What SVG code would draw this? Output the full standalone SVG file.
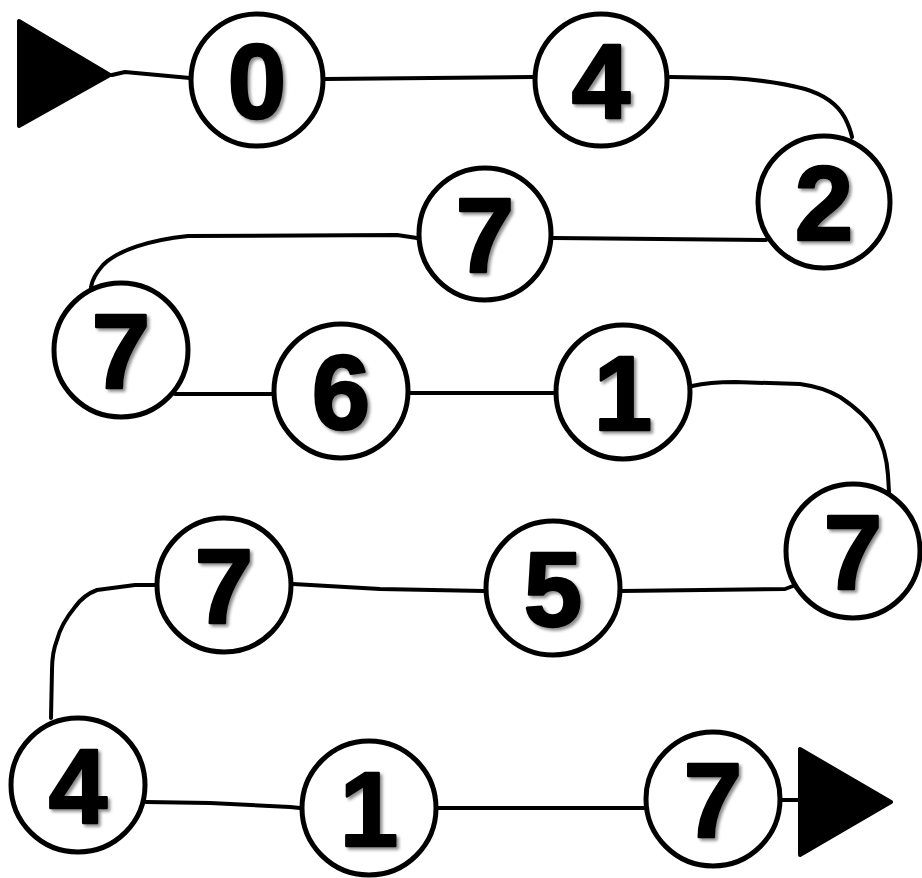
<svg xmlns="http://www.w3.org/2000/svg" width="922" height="878" viewBox="0 0 922 878">
<defs>
<filter id="sh" x="-20%" y="-20%" width="150%" height="150%">
<feDropShadow dx="2.5" dy="2.5" stdDeviation="1.6" flood-color="#000" flood-opacity="0.45"/>
</filter>
<style>
.n circle{fill:#fff;stroke:#000;stroke-width:5}
.n text{font-family:"Liberation Sans",Arial,sans-serif;font-weight:bold;font-size:105px;text-anchor:middle;fill:#000;stroke:#000;stroke-width:2.5;stroke-linejoin:round;filter:url(#sh)}
#connectors path{fill:none;stroke:#000;stroke-width:4;stroke-linecap:round;stroke-linejoin:round}
.arr{fill:#000;stroke:#000;stroke-width:4;stroke-linejoin:round}
</style>
</defs>
<rect width="922" height="878" fill="#fff"/>
<g id="connectors">
<path d="M112,75 L125,72 L190,78"/>
<path d="M325,79 L533,77"/>
<path d="M670,77 L730,78 C765,80 790,85 805,89 C825,95 838,105 845,118 C849,126 851,132 852,137"/>
<path d="M766,240 L553,238"/>
<path d="M417,238 L397,235 L188,236 C150,240 118,250 103,265 C96,273 92,280 91,287"/>
<path d="M175,394 L273,394"/>
<path d="M410,393 L555,393"/>
<path d="M692,386 C705,383 720,382 735,382 L800,384 C815,386 828,390 840,397 C855,407 868,418 876,432 C884,446 887,460 888,475 L889,492"/>
<path d="M793,586 L785,589 L621,591"/>
<path d="M484,591 L380,589 L293,584"/>
<path d="M156,585 L135,585 L97,590 C86,594 80,600 75,607 C66,618 60,628 57,640 C53,650 52,660 52,670 L51,718"/>
<path d="M146,802 L210,803 L290,807 L300,808"/>
<path d="M437,808 L644,808"/>
<path d="M782,800 L798,800"/>
<polygon class="arr" points="19,21 19,126 110,75"/>
<polygon class="arr" points="800,749 800,855 891,802"/>
</g>
<g id="n1" class="n"><circle cx="257" cy="80" r="66"/><text x="257" y="118">0</text></g>
<g id="n2" class="n"><circle cx="601" cy="80" r="66"/><text x="601" y="118">4</text></g>
<g id="n3" class="n"><circle cx="824" cy="202" r="66"/><text x="824" y="240">2</text></g>
<g id="n4" class="n"><circle cx="485" cy="234" r="66"/><text x="485" y="272">7</text></g>
<g id="n5" class="n"><circle cx="121" cy="350" r="67"/><text x="121" y="388">7</text></g>
<g id="n6" class="n"><circle cx="341" cy="391" r="67"/><text x="341" y="429">6</text></g>
<g id="n7" class="n"><circle cx="623" cy="392" r="67"/><text x="623" y="430">1</text></g>
<g id="n8" class="n"><circle cx="853" cy="551" r="67"/><text x="853" y="589">7</text></g>
<g id="n9" class="n"><circle cx="553" cy="588" r="67"/><text x="553" y="626">5</text></g>
<g id="n10" class="n"><circle cx="224" cy="585" r="67"/><text x="224" y="623">7</text></g>
<g id="n11" class="n"><circle cx="78" cy="785" r="67"/><text x="78" y="823">4</text></g>
<g id="n12" class="n"><circle cx="369" cy="808" r="67"/><text x="369" y="846">1</text></g>
<g id="n13" class="n"><circle cx="713" cy="799" r="67"/><text x="713" y="837">7</text></g>
</svg>
